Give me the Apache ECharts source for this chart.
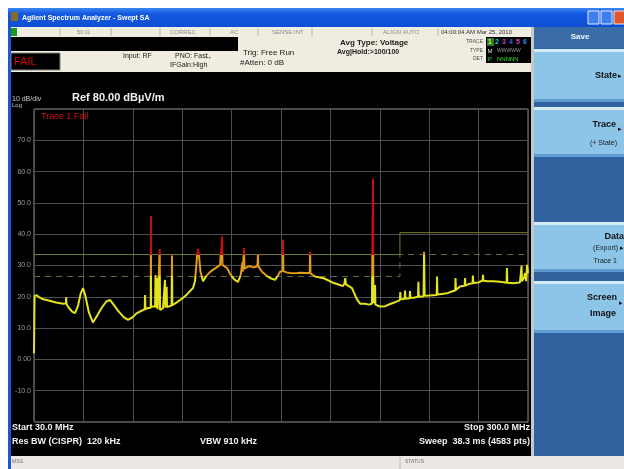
<!DOCTYPE html>
<html>
<head>
<meta charset="utf-8">
<script src="https://cdn.jsdelivr.net/npm/echarts/dist/echarts.min.js"></script>
<style>
html, body { margin: 0; padding: 0; background: #ffffff; }
#chart { width: 624px; height: 469px; }
</style>
</head>
<body>
<div id="chart"></div>
<script>
// Sweep settings (MHz) and amplitude scale (dBµV/m)
const startMHz = 30;
const stopMHz = 300;
const refLevel = 80;
const bottomLevel = -20;
const dbPerDiv = 10;

// Measured trace 1: frequency (MHz) and level (dBµV/m)
const traceMHz = [
  30.0, 30.3, 31.5, 33.0, 35.0, 38.0, 42.0, 46.0, 47.4, 47.6, 47.8, 49.0, 50.8, 52.4, 54.0, 55.5,
  56.8, 58.0, 60.0, 62.2, 64.0, 67.0, 69.5, 71.5, 73.5, 76.0, 79.0, 81.4, 84.0, 86.0, 87.9, 90.5,
  90.7, 90.9, 92.5, 93.8, 93.9, 94.0, 95.0, 96.2, 96.4, 96.6, 97.2, 97.4, 97.6, 98.5, 98.7, 98.9,
  100.5, 101.4, 101.6, 101.8, 102.3, 102.5, 102.7, 104.0, 105.2, 105.4, 105.6, 108.0, 111.4, 114.0,
  116.9, 118.0, 119.1, 119.6, 120.2, 121.0, 122.4, 124.0, 126.0, 127.8, 130.0, 131.7, 132.6, 132.8,
  133.0, 134.0, 135.5, 137.0, 138.8, 140.0, 141.5, 143.0, 143.7, 143.9, 144.1, 144.6, 144.8, 145.0,
  146.0, 147.5, 148.1, 150.0, 151.5, 152.2, 152.4, 152.6, 154.6, 157.0, 159.0, 161.7, 163.0, 164.5,
  165.9, 166.1, 166.3, 168.0, 169.9, 171.6, 174.0, 176.0, 178.0, 180.7, 180.9, 181.1, 183.6, 186.0,
  188.0, 191.0, 193.4, 196.0, 198.9, 199.7, 200.1, 200.5, 201.1, 203.8, 206.5, 208.2, 210.9, 213.0,
  214.7, 215.1, 215.3, 215.5, 216.2, 216.4, 216.6, 219.1, 222.0, 224.6, 227.0, 229.5, 230.0,
  230.2, 230.4, 232.6, 232.8, 233.0, 235.3, 235.5, 235.7, 238.0, 239.9, 240.1, 240.3, 242.9, 243.2,
  243.5, 246.0, 250.1, 250.3, 250.5, 253.0, 255.7, 258.0, 260.2, 260.4, 260.6, 262.8, 265.4, 265.6,
  265.8, 268.0, 269.7, 269.9, 270.1, 273.0, 275.2, 275.4, 275.6, 278.0, 280.9, 283.0, 284.7, 288.3,
  288.5, 288.7, 291.8, 294.0, 295.6, 296.3, 296.5, 296.7, 297.8, 298.4, 299.0, 299.5, 300.0
];
const traceDb = [
  2.0, 20.3, 20.5, 19.8, 19.2, 18.8, 18.2, 17.8, 17.9, 19.8, 17.6, 16.5, 15.3, 14.8, 17.0, 21.0,
  22.8, 20.5, 15.0, 11.8, 13.5, 16.5, 18.5, 19.0, 17.5, 15.5, 13.5, 12.6, 13.5, 14.7, 15.3, 16.0,
  20.6, 16.1, 16.4, 16.5, 45.8, 16.8, 17.0, 17.0, 27.0, 16.5, 16.2, 26.0, 16.0, 15.8, 35.3, 15.8,
  16.3, 16.4, 25.4, 16.5, 16.6, 23.2, 16.7, 17.0, 17.2, 33.2, 17.3, 18.2, 19.6, 21.0,
  22.8, 25.0, 32.8, 35.3, 33.0, 28.0, 25.0, 26.5, 27.8, 28.6, 29.5, 30.2, 30.5, 39.3,
  30.2, 29.8, 29.2, 27.5, 26.0, 25.3, 24.8, 27.0, 27.6, 31.0, 28.0, 28.5, 35.6, 29.0,
  29.5, 29.8, 29.3, 29.4, 29.6, 30.3, 33.5, 29.8, 28.0, 26.8, 26.0, 25.4, 26.5, 28.0,
  28.3, 38.2, 28.2, 27.8, 27.6, 27.5, 27.6, 27.7, 27.6, 27.6, 34.4, 27.5, 26.5, 26.2,
  26.0, 25.2, 24.5, 24.0, 23.4, 24.3, 26.0, 24.0, 23.5, 22.8, 19.2, 17.8, 17.8, 17.5,
  17.8, 18.0, 57.8, 18.0, 18.3, 23.8, 17.5, 16.9, 17.0, 17.7, 18.2, 18.8, 19.0,
  21.5, 19.1, 19.4, 22.0, 19.4, 19.5, 21.8, 19.6, 19.8, 20.0, 24.8, 20.0, 20.2, 34.4,
  20.3, 20.4, 20.6, 26.5, 20.7, 20.9, 21.1, 21.6, 22.0, 26.0, 22.2, 23.3, 23.5, 26.0,
  23.6, 24.2, 24.3, 26.8, 24.4, 24.6, 25.2, 27.0, 25.1, 25.0, 25.0, 24.9, 24.8, 24.5,
  29.2, 24.5, 24.3, 24.5, 24.6, 24.7, 30.0, 25.0, 26.0, 27.6, 25.0, 30.2, 27.5
];

// Limit line (solid) and margin line (dashed), stepping at 230 MHz
const limitMHz = [30, 230, 230, 300];
const limitDb = [33.5, 33.5, 40.5, 40.5];
const marginMHz = [30, 230, 230, 300];
const marginDb = [26.5, 26.5, 33.5, 33.5];
const bandEdgeMHz = 230;

// Amplitude tick labels, top to bottom
const tickValues = [70, 60, 50, 40, 30, 20, 10, 0, -10];
const tickLabels = ['70.0', '60.0', '50.0', '40.0', '30.0', '20.0', '10.0', '0.00', '-10.0'];

const FONT = '"Liberation Sans", Arial, sans-serif';
const YELLOW = '#e4e41e';
const ORANGE = '#e39a18';
const RED = '#c01010';

const zip = (xs, ys) => xs.map((x, i) => [x, ys[i]]);
const tracePts = zip(traceMHz, traceDb);
const lowBand = tracePts.filter(p => p[0] <= bandEdgeMHz);
const highBand = tracePts.filter(p => p[0] >= bandEdgeMHz);

// ---- instrument window chrome ----
const g = [];
const rect = (x, y, w, h, fill, z, extra) => g.push(Object.assign({
  type: 'rect', shape: { x, y, width: w, height: h }, style: { fill }, z: z === undefined ? -10 : z, silent: true
}, extra || {}));
const txt = (x, y, s, font, fill, align) => g.push({
  type: 'text', z: 20, silent: true,
  style: { text: s, x, y, font, fill, textAlign: align || 'left', textVerticalAlign: 'middle' }
});
const vline = (x, y1, y2, stroke, z) => g.push({
  type: 'line', z: z === undefined ? -5 : z, silent: true,
  shape: { x1: x, y1, x2: x, y2 }, style: { stroke, lineWidth: 1 }
});

// title bar
rect(8, 8, 616, 19, {
  type: 'linear', x: 0, y: 0, x2: 0, y2: 1,
  colorStops: [{ offset: 0, color: '#3b86f0' }, { offset: 0.3, color: '#1458e0' }, { offset: 1, color: '#0d4fd4' }]
});
rect(11, 12, 7, 9, '#8a6a2a', -9);
txt(22, 18, 'Agilent Spectrum Analyzer - Swept SA', 'bold 7px ' + FONT, '#ffffff');
rect(588, 11, 11, 13, '#3c7df2', -9, { style: { fill: '#3c7df2', stroke: '#e8f0ff', lineWidth: 1 } });
rect(601, 11, 11, 13, '#3c7df2', -9, { style: { fill: '#3c7df2', stroke: '#e8f0ff', lineWidth: 1 } });
rect(614, 11, 11, 13, '#e2562a', -9, { style: { fill: '#e2562a', stroke: '#f8e8e0', lineWidth: 1 } });
// left window frame
rect(8, 27, 3, 442, '#1a58d6');
// toolbar strip
rect(11, 27, 522, 10, '#efece2');
rect(11, 28, 6, 8, '#1c9a1c', -9);
[60, 111, 160, 210, 258, 312, 372, 438].forEach(x => vline(x, 28, 36, '#b8b4a8'));
const TB = '6px ' + FONT;
txt(77, 32, '50 Ω', TB, '#8a8a8a');
txt(170, 32, 'CORREC', TB, '#8a8a8a');
txt(230, 32, 'AC', TB, '#8a8a8a');
txt(272, 32, 'SENSE:INT', TB, '#8a8a8a');
txt(383, 32, 'ALIGN AUTO', TB, '#8a8a8a');
txt(441, 32, '04:00:04 AM Mar 25, 2010', TB, '#303030');
// status panel
rect(11, 37, 522, 35, '#f0ece0');
rect(11, 37, 227, 14, '#000000', -9);
rect(11, 53, 49, 17, '#000000', -9, { style: { fill: '#000000', stroke: '#808080', lineWidth: 1 } });
txt(14, 61.5, 'FAIL', '11px ' + FONT, '#d80000');
const SP = '7px ' + FONT;
txt(123, 56, 'Input: RF', SP, '#202020');
txt(175, 56, 'PNO: Fast', SP, '#202020');
txt(204, 57, '↔', '8px ' + FONT, '#202020');
txt(170, 65, 'IFGain:High', SP, '#202020');
txt(243, 53, 'Trig: Free Run', '8px ' + FONT, '#202020');
txt(240, 63, '#Atten: 0 dB', '8px ' + FONT, '#202020');
txt(340, 43, 'Avg Type: Voltage', 'bold 8px ' + FONT, '#202020');
txt(337, 52, 'Avg|Hold:>100/100', 'bold 7px ' + FONT, '#202020');
txt(483, 42, 'TRACE', '5px ' + FONT, '#505050', 'right');
txt(483, 51, 'TYPE', '5px ' + FONT, '#505050', 'right');
txt(483, 59, 'DET', '5px ' + FONT, '#505050', 'right');
rect(486, 37, 45, 26, '#000000', -9);
rect(487, 38, 7, 8, '#1f7a2a', -8);
const TR = 'bold 7px ' + FONT;
[['1', '#f0f020'], ['2', '#20d0e0'], ['3', '#c040e0'], ['4', '#4060f0'], ['5', '#e040c0'], ['6', '#4080ff']]
  .forEach((d, i) => txt(490 + i * 7, 42, d[0], TR, d[1], 'center'));
txt(490, 51, 'M', '6px ' + FONT, '#e0e0e0', 'center');
txt(497, 51, 'WWWWW', '5px ' + FONT, '#9a9a9a');
txt(490, 59, 'P', '6px ' + FONT, '#30e030', 'center');
txt(497, 59, 'NNNNN', '6px ' + FONT, '#30e030');
// display area
rect(11, 72, 521, 384, '#000000');
txt(12, 99, '10 dB/div', '7px ' + FONT, '#c8c8c8');
txt(12, 105, 'Log', '6px ' + FONT, '#c8c8c8');
txt(72, 98, 'Ref 80.00 dBµV/m', 'bold 11px ' + FONT, '#f0f0f0');
txt(41, 117, 'Trace 1 Fail', '9px ' + FONT, '#d81010');
const BT = 'bold 9px ' + FONT;
txt(12, 428, 'Start 30.0 MHz', BT, '#f0f0f0');
txt(530, 428, 'Stop 300.0 MHz', BT, '#f0f0f0', 'right');
txt(12, 442, 'Res BW (CISPR)  120 kHz', BT, '#f0f0f0');
txt(200, 442, 'VBW 910 kHz', BT, '#f0f0f0');
txt(530, 442, 'Sweep  38.3 ms (4583 pts)', BT, '#f0f0f0', 'right');
// divider and softkey panel
rect(531, 27, 3, 429, '#c8c8c8');
rect(534, 27, 90, 429, '#2f629f');
rect(534, 27, 90, 21, '#3a6ca8', -9);
txt(580, 37, 'Save', 'bold 8px ' + FONT, '#f0f4ff', 'center');
const key = (y, h) => {
  rect(534, y, 90, h, '#8cc5e8', -8);
  rect(534, y, 90, 3, '#d6edf9', -7);
  rect(534, y + h - 3, 90, 3, '#5d9bd0', -7);
};
key(49, 53);
key(107, 50);
key(222, 50);
key(281, 52);
const SK = 'bold 9px ' + FONT;
const SS = '7px ' + FONT;
txt(617, 76, 'State', SK, '#101010', 'right');
txt(622, 76, '▸', '7px ' + FONT, '#101010', 'right');
txt(616, 125, 'Trace', SK, '#101010', 'right');
txt(622, 129, '▸', '7px ' + FONT, '#101010', 'right');
txt(617, 143, '(+ State)', SS, '#202020', 'right');
txt(624, 237, 'Data', SK, '#101010', 'right');
txt(618, 248, '(Export)', SS, '#202020', 'right');
txt(624, 248, '▸', '7px ' + FONT, '#101010', 'right');
txt(617, 261, 'Trace 1', SS, '#202020', 'right');
txt(617, 298, 'Screen', SK, '#101010', 'right');
txt(623, 303, '▸', '7px ' + FONT, '#101010', 'right');
txt(616, 314, 'Image', SK, '#101010', 'right');
// message / status bar
rect(11, 456, 613, 13, '#ebe8e6');
vline(400, 457, 469, '#c0bcb8');
txt(12, 462, 'MSG', '5px ' + FONT, '#707070');
txt(405, 462, 'STATUS', '5px ' + FONT, '#707070');

// ---- chart ----
const chart = echarts.init(document.getElementById('chart'), null, { renderer: 'canvas' });
chart.setOption({
  animation: false,
  backgroundColor: '#ffffff',
  grid: {
    left: 34, top: 109, width: 494, height: 313,
    show: true, borderColor: '#8c8c8c', borderWidth: 1, backgroundColor: 'transparent'
  },
  xAxis: [
    { type: 'value', min: startMHz, max: stopMHz, show: false },
    {
      type: 'value', min: 0, max: 10, interval: 1, position: 'top',
      axisLine: { show: false }, axisTick: { show: false }, axisLabel: { show: false },
      splitLine: { show: true, lineStyle: { color: '#4f4f4f', width: 1 } }
    }
  ],
  yAxis: {
    type: 'value', min: bottomLevel, max: refLevel, interval: dbPerDiv,
    axisLine: { show: false }, axisTick: { show: false },
    splitLine: { show: true, lineStyle: { color: '#4f4f4f', width: 1 } },
    axisLabel: {
      margin: 3, fontSize: 7, fontFamily: FONT, color: '#9c9c9c',
      formatter: v => {
        const i = tickValues.indexOf(v);
        return i >= 0 ? tickLabels[i] : '';
      }
    }
  },
  visualMap: [
    {
      type: 'piecewise', show: false, seriesIndex: 2, dimension: 1,
      pieces: [
        { lt: marginDb[0], color: YELLOW },
        { gte: marginDb[0], lt: limitDb[0], color: ORANGE },
        { gte: limitDb[0], color: RED }
      ]
    },
    {
      type: 'piecewise', show: false, seriesIndex: 3, dimension: 1,
      pieces: [
        { lt: marginDb[3], color: YELLOW },
        { gte: marginDb[3], lt: limitDb[3], color: ORANGE },
        { gte: limitDb[3], color: RED }
      ]
    }
  ],
  graphic: g,
  series: [
    {
      name: 'Margin', type: 'line', xAxisIndex: 0, data: zip(marginMHz, marginDb),
      symbol: 'none', silent: true, z: 3,
      lineStyle: { color: '#6a6a44', width: 1, type: [6, 5] }
    },
    {
      name: 'Limit', type: 'line', xAxisIndex: 0, data: zip(limitMHz, limitDb),
      symbol: 'none', silent: true, z: 3,
      lineStyle: { color: '#7a7a2c', width: 1 }
    },
    {
      name: 'Trace 1', type: 'line', xAxisIndex: 0, data: lowBand,
      symbol: 'none', silent: true, z: 5,
      lineStyle: { width: 2 }
    },
    {
      name: 'Trace 1 (upper band)', type: 'line', xAxisIndex: 0, data: highBand,
      symbol: 'none', silent: true, z: 5,
      lineStyle: { width: 2 }
    }
  ]
});
</script>
</body>
</html>
